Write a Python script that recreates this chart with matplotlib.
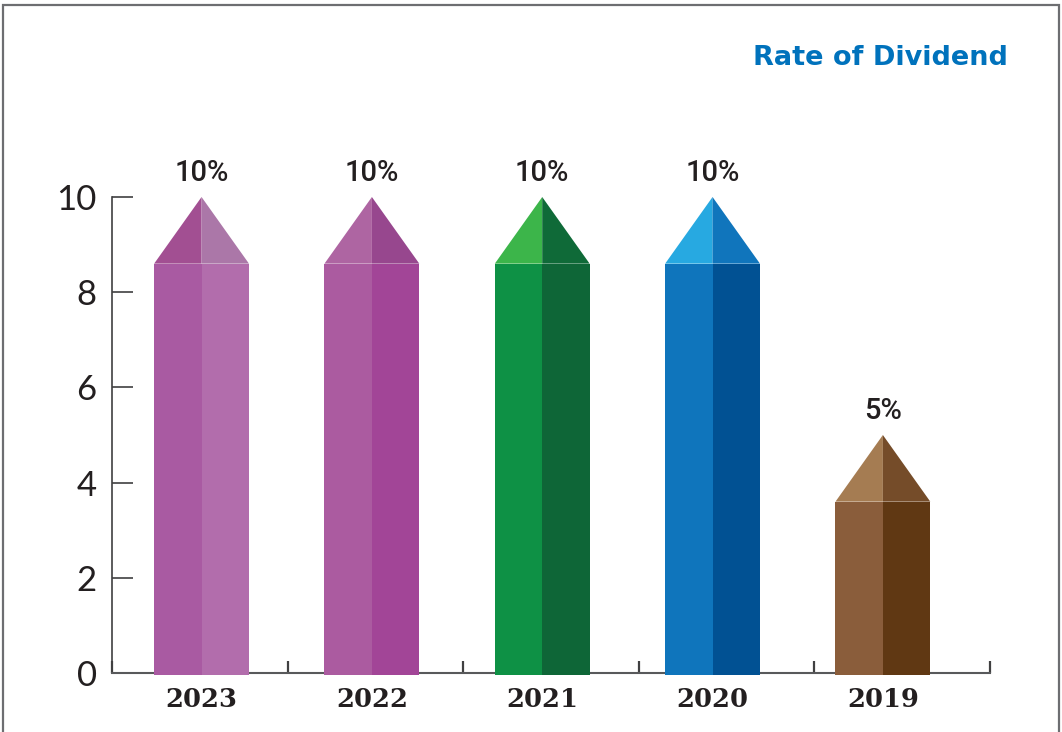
import numpy as np
import matplotlib.pyplot as plt
from matplotlib.patches import Rectangle

years = ["2023", "2022", "2021", "2020", "2019"]
rates = [10, 10, 10, 10, 5]
labels = ["10%", "10%", "10%", "10%", "5%"]
body_left = ["#A95AA2", "#AB5BA0", "#0E9145", "#0F75BC", "#8A5D3B"]
body_right = ["#B26DAC", "#A24597", "#0E6637", "#015193", "#603813"]
tip_left = ["#A24F92", "#AE65A2", "#3CB54A", "#27A9E1", "#A57C52"]
tip_right = ["#AB77A8", "#97478E", "#0F6A38", "#1075BC", "#754C29"]

TIP = 1.4      # height of the pencil point, in axis units
W = 0.54       # bar width
DARK = "#231F20"

fig = plt.figure(figsize=(10.62, 7.32), dpi=100)
ax = fig.add_axes([112/1062, 1-673/732, 878/1062, (673-197)/732])

xs = 0.51 + 0.97*np.arange(len(years))
for i, (x, v) in enumerate(zip(xs, rates)):
    top = v - TIP
    ax.bar(x - W/2, top + 0.05, W/2, bottom=-0.05, align="edge",
           color=body_left[i], zorder=3, clip_on=False, lw=0)
    ax.bar(x, top + 0.05, W/2, bottom=-0.05, align="edge",
           color=body_right[i], zorder=3, clip_on=False, lw=0)
    ax.fill([x - W/2, x, x], [top, v, top], color=tip_left[i], lw=0, zorder=3, clip_on=False)
    ax.fill([x, x + W/2, x], [top, top, v], color=tip_right[i], lw=0, zorder=3, clip_on=False)
    ax.text(x, v + 0.2, labels[i], ha="center", va="bottom", fontsize=21,
            family="Roboto", weight="medium", color=DARK)

ax.set_xlim(0, 5)
ax.set_ylim(0, 10)
ax.set_yticks(range(0, 11, 2))
ax.set_yticklabels([str(t) for t in range(0, 11, 2)], fontsize=25, color=DARK,
                   family="Lato", weight="normal")
ax.tick_params(axis="y", direction="in", length=15, width=1.2, color="#404041", pad=11)
ax.set_xticks(range(0, 6))
ax.set_xticklabels([])
ax.tick_params(axis="x", direction="in", length=8.5, width=1.6, color="#404041")
for x, yr in zip(xs, years):
    ax.text(x, -0.3, yr, ha="center", va="top", fontsize=18.5, family="DejaVu Serif",
            weight="bold", color=DARK)

for s in ["top", "right"]:
    ax.spines[s].set_visible(False)
ax.spines["left"].set_color("#404041")
ax.spines["left"].set_linewidth(1.2)
ax.spines["bottom"].set_color("#58595B")
ax.spines["bottom"].set_linewidth(1.5)

fig.text(1008/1062, 1-58/732, "Rate of Dividend", ha="right", va="center",
         fontsize=19.5, weight="bold", color="#0072BC", family="DejaVu Sans")

# outer frame
fig.patches.append(Rectangle((3/1062, -0.05), 1056/1062, 1.05 - 5/732,
                             transform=fig.transFigure, fill=False,
                             ec="#6D6E71", lw=1.6))

fig.savefig("out.png", dpi=100)
